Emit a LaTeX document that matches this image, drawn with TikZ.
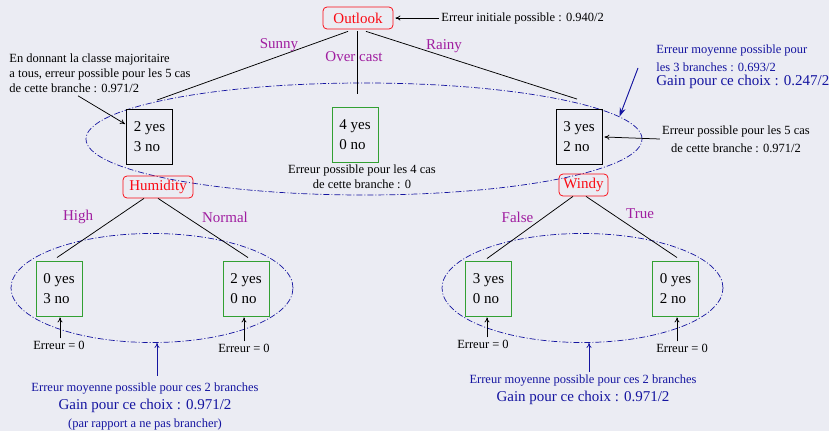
\documentclass[tikz,border=0pt]{standalone}
\usepackage{fontspec}
\setmainfont{Liberation Serif}
\usetikzlibrary{shapes.geometric,calc,arrows.meta}
\definecolor{bgcol}{RGB}{235,236,243}
\definecolor{nodered}{RGB}{250,10,20}
\definecolor{leafgreen}{RGB}{50,160,50}
\definecolor{noteblue}{RGB}{20,20,160}
\definecolor{labpurple}{RGB}{160,30,160}
\tikzset{every picture/.style={line width=0.75pt}}
\tikzset{
  attrib/.style={draw=nodered, text=nodered, rounded corners=4pt, minimum height=22, inner xsep=4pt, inner ysep=0pt, font=\fontsize{15}{18}\selectfont},
  leafbox/.style={draw, line width=0.9pt, minimum width=46, minimum height=55, inner sep=0pt, align=left, font=\fontsize{15}{20}\selectfont},
  purebox/.style={leafbox, draw=leafgreen},
  branchlab/.style={text=labpurple, font=\fontsize{15}{18}\selectfont},
  note/.style={font=\fontsize{12.5}{15}\selectfont, inner sep=2pt},
  bluenote/.style={note, text=noteblue},
  groupell/.style={ellipse, draw=noteblue, dash pattern=on 6pt off 2pt on 1pt off 2pt, inner sep=0pt, line width=0.7pt},
  notearrow/.style={-{To[length=5pt,width=5pt]}},
  bluearrow/.style={draw=noteblue, fill=noteblue, line width=0.9pt, -{Stealth[length=9pt,width=6pt]}},
}

\begin{document}
\begin{tikzpicture}[x=1pt,y=1pt,yscale=-1,xscale=1]
%background, sets the page size
\fill[bgcol] (0,0) rectangle (829,431);
\useasboundingbox (0,0) rectangle (829,431);

%Ellipses round the branches
\node[groupell, minimum width=556, minimum height=112] (allsplit) at (364,139) {};
\node[groupell, minimum width=282, minimum height=109] (humsplit) at (152,288) {};
\node[groupell, minimum width=281, minimum height=109] (windsplit) at (582.5,288) {};

%Attribute nodes
\node[attrib, minimum width=70] (outlook) at (358,18) {Outlook};
\node[attrib, minimum width=70] (humidity) at (158,187) {Humidity};
\node[attrib, minimum width=49] (windy) at (583.5,185) {Windy};

%First level
\node[leafbox] (sunny) at (149.5,137) {2 yes\\3 no};
\node[purebox] (overcast) at (355,134.5) {4 yes\\0 no};
\node[leafbox] (rainy) at (579,137) {3 yes\\2 no};

%Second level
\node[purebox] (high) at (59,288.5) {0 yes\\3 no};
\node[purebox] (normal) at (246,288.5) {2 yes\\0 no};
\node[purebox] (windfalse) at (488.5,288.5) {3 yes\\0 no};
\node[purebox] (windtrue) at (675.5,288.5) {0 yes\\2 no};

%Branches
\draw ($(outlook.south)+(-10,2)$) -- ($(sunny.north)+(7.5,-9)$);
\draw ($(outlook.south)+(-1,2)$) -- ($(overcast.north)+(2,-13)$);
\draw ($(outlook.south)+(8,2)$) -- ($(rainy.north)+(-2,-10)$);
\draw ($(humidity.south)+(-14,0)$) -- ($(high.north)+(-2,-3)$);
\draw (humidity.south) -- ($(normal.north)+(2,-3)$);
\draw ($(windy.south)+(-10.5,0)$) -- ($(windfalse.north)+(-1.5,-2)$);
\draw ($(windy.south)+(2.5,0)$) -- ($(windtrue.north)+(1.5,-3)$);

%Branch labels
\node[branchlab] (lsunny) at (279,45) {Sunny};
\node[branchlab] (lover) at (354,57) {Over cast};
\node[branchlab] (lrainy) at (444,46) {Rainy};
\node[branchlab] (lhigh) at (78,217) {High};
\node[branchlab] (lnormal) at (225,217) {Normal};
\node[branchlab] (lfalse) at (517.5,217) {False};
\node[branchlab] (ltrue) at (640,214) {True};

%Error notes
\node[note, anchor=west] (initerr) at (439,18) {Erreur initiale possible : 0.940/2};
\node[note, align=left, anchor=west] (sunnyerr) at (7,73) {En donnant la classe majoritaire\\a tous, erreur possible pour les 5 cas\\de cette branche : 0.971/2};
\node[note, align=center] (overerr) at (362,177) {Erreur possible pour les 4 cas\\de cette branche : 0};
\node[note, align=center] (rainyerr) at (736,139) {Erreur possible pour les 5 cas\\[3pt]de cette branche : 0.971/2};
\node[bluenote, align=left, anchor=west] (outgain) at (654,67) {Erreur moyenne possible pour\\[3pt]les 3 branches : 0.693/2\\[-1pt]{\fontsize{15}{18}\selectfont Gain pour ce choix : 0.247/2}};
\node[note] (err1) at (59,345) {Erreur = 0};
\node[note] (err2) at (244,348) {Erreur = 0};
\node[note] (err3) at (483,344) {Erreur = 0};
\node[note] (err4) at (682,348) {Erreur = 0};
\node[bluenote, align=center, font=\fontsize{12.5}{18}\selectfont] (humgain) at (145,406) {Erreur moyenne possible pour ces 2 branches\\{\fontsize{15}{18}\selectfont Gain pour ce choix : 0.971/2}\\(par rapport a ne pas brancher)};
\node[bluenote, align=center, font=\fontsize{12.5}{18}\selectfont] (windgain) at (583,390) {Erreur moyenne possible pour ces 2 branches\\{\fontsize{15}{18}\selectfont Gain pour ce choix : 0.971/2}};

%Arrows of the notes
\draw[notearrow, shorten >=2pt] (initerr.west) -- (outlook.east);
\draw[notearrow] ($(sunnyerr.south west)+(71,1)$) -- ($(sunny.west)+(-1,-13)$);
\draw[notearrow] (rainyerr.west) -- ($(rainy.east)+(2,0)$);
\draw[bluearrow] ($(outgain.west)+(-16,1)$) -- (allsplit.5);
\draw[notearrow] ($(err1.north)+(1,0)$) -- ($(high.south)+(1,1)$);
\draw[notearrow] ($(err2.north)+(0,0)$) -- ($(normal.south)+(-2,1)$);
\draw[notearrow] ($(err3.north)+(4,0)$) -- ($(windfalse.south)+(-1.5,1)$);
\draw[notearrow] ($(err4.north)+(-5,0)$) -- ($(windtrue.south)+(1.5,1)$);
\draw[notearrow, noteblue] ($(humgain.north)+(12,-4)$) -- ($(humsplit.south)+(5,0)$);
\draw[notearrow, noteblue] ($(windgain.north)+(6,-1)$) -- ($(windsplit.south)+(6.5,0)$);
\end{tikzpicture}
\end{document}
